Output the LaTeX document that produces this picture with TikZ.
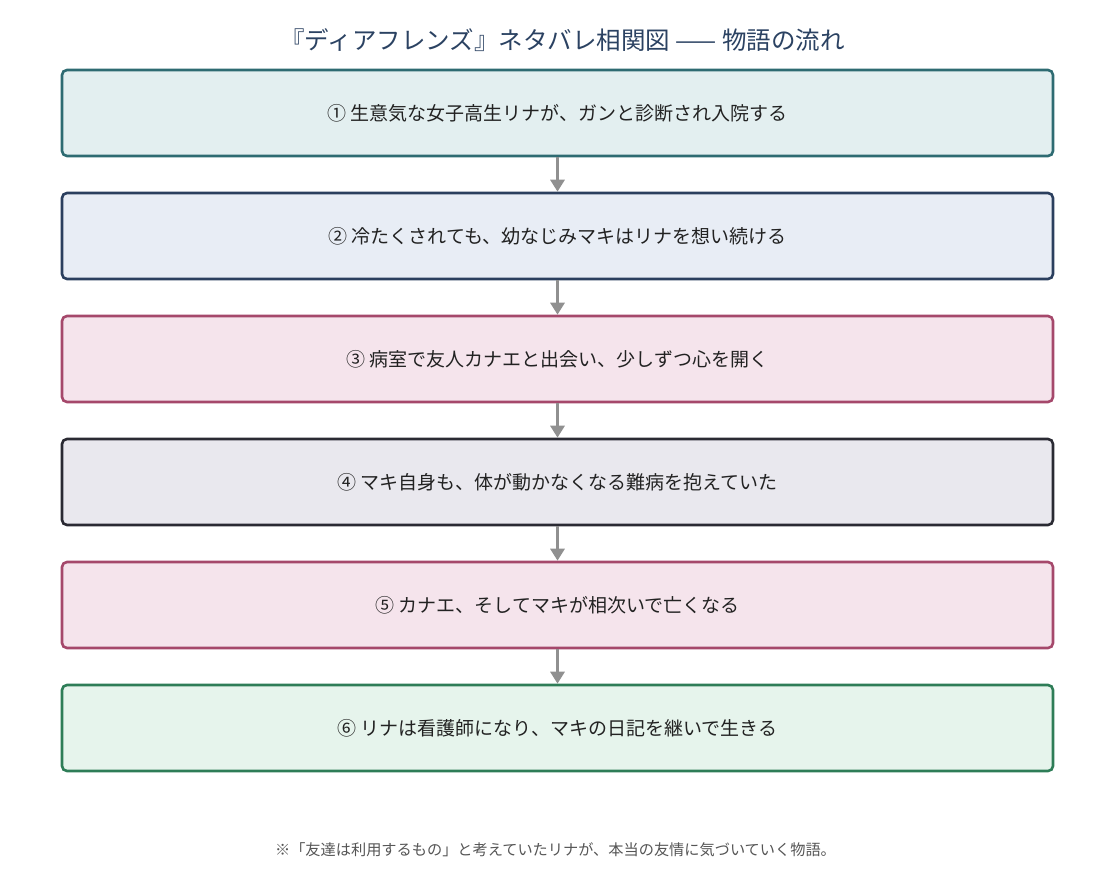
\documentclass[tikz,border=0pt]{standalone}
\usepackage{fontspec}
\setmainfont{Noto Sans CJK JP}
\usetikzlibrary{arrows.meta}
\definecolor{tealS}{HTML}{2E6B72}\definecolor{tealF}{HTML}{E3EFF0}
\definecolor{navyS}{HTML}{2B3F5E}\definecolor{navyF}{HTML}{E8EDF5}
\definecolor{roseS}{HTML}{A5486B}\definecolor{roseF}{HTML}{F5E4EC}
\definecolor{darkS}{HTML}{2A2A33}\definecolor{darkF}{HTML}{E9E8EE}
\definecolor{grnS}{HTML}{2E7D57}\definecolor{grnF}{HTML}{E6F4EC}
\definecolor{titleC}{HTML}{2B4262}
\definecolor{txtC}{HTML}{222222}
\definecolor{footC}{HTML}{555555}
\definecolor{arrC}{HTML}{909090}
\begin{document}
\begin{tikzpicture}[x=1pt,y=-1pt,
  stepbox/.style={draw, line width=2.6pt, rounded corners=5pt, minimum width=991pt, minimum height=86pt, inner sep=0pt, font=\fontsize{19}{23}\selectfont, text=txtC},
  flowarrow/.style={draw=arrC, line width=3pt, -{Triangle[length=12pt,width=14pt]}}]
\useasboundingbox (0,0) rectangle (1115,885);
\node[font=\fontsize{24.5}{29}\selectfont, text=titleC] (title) at (562.5,40) {『ディアフレンズ』ネタバレ相関図 —— 物語の流れ};
\node[stepbox, draw=tealS, fill=tealF] (b1) at (557.5,113) {① 生意気な女子高生リナが、ガンと診断され入院する};
\node[stepbox, draw=navyS, fill=navyF] (b2) at (557.5,236) {② 冷たくされても、幼なじみマキはリナを想い続ける};
\node[stepbox, draw=roseS, fill=roseF] (b3) at (557.5,359) {③ 病室で友人カナエと出会い、少しずつ心を開く};
\node[stepbox, draw=darkS, fill=darkF] (b4) at (557.5,482) {④ マキ自身も、体が動かなくなる難病を抱えていた};
\node[stepbox, draw=roseS, fill=roseF] (b5) at (557.5,605) {⑤ カナエ、そしてマキが相次いで亡くなる};
\node[stepbox, draw=grnS, fill=grnF] (b6) at (557.5,728) {⑥ リナは看護師になり、マキの日記を継いで生きる};
\foreach \a/\b in {b1/b2,b2/b3,b3/b4,b4/b5,b5/b6}
  \draw[flowarrow] (\a.south) -- (\b.north);
\node[font=\fontsize{15.2}{18}\selectfont, text=footC] (foot) at (555.5,850) {※「友達は利用するもの」と考えていたリナが、本当の友情に気づいていく物語。};
\end{tikzpicture}
\end{document}
